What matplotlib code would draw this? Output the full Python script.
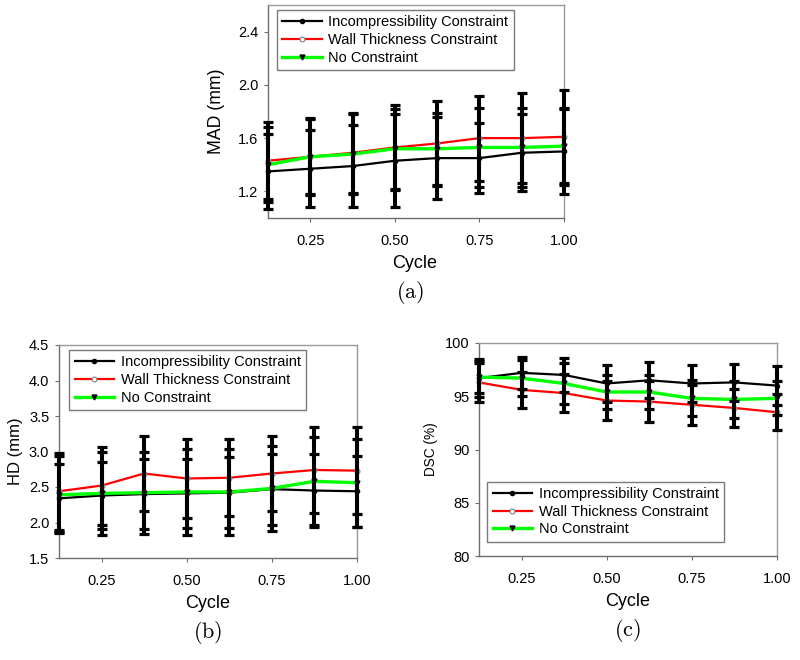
import matplotlib
matplotlib.use("Agg")
import matplotlib.pyplot as plt
from matplotlib.ticker import FixedLocator, FormatStrFormatter

plt.rcParams['font.family'] = ['Liberation Sans', 'DejaVu Sans']
plt.rcParams['mathtext.fontset'] = 'cm'

cycle = [0.125, 0.25, 0.375, 0.5, 0.625, 0.75, 0.875, 1.0]
series_names = ["Incompressibility Constraint", "Wall Thickness Constraint", "No Constraint"]

# (a) MAD (mm)
mad_incomp = [1.35, 1.37, 1.39, 1.43, 1.45, 1.45, 1.49, 1.50]
mad_incomp_sd = [0.28, 0.29, 0.31, 0.35, 0.31, 0.26, 0.29, 0.32]
mad_wall = [1.43, 1.46, 1.49, 1.53, 1.56, 1.60, 1.60, 1.61]
mad_wall_sd = [0.29, 0.28, 0.30, 0.32, 0.32, 0.32, 0.34, 0.35]
mad_none = [1.40, 1.46, 1.48, 1.52, 1.52, 1.53, 1.53, 1.54]
mad_none_sd = [0.28, 0.29, 0.30, 0.30, 0.27, 0.30, 0.30, 0.29]

# (b) HD (mm)
hd_incomp = [2.34, 2.38, 2.40, 2.41, 2.42, 2.47, 2.45, 2.44]
hd_incomp_sd = [0.48, 0.47, 0.49, 0.49, 0.50, 0.50, 0.52, 0.50]
hd_wall = [2.44, 2.52, 2.69, 2.62, 2.63, 2.69, 2.74, 2.73]
hd_wall_sd = [0.54, 0.55, 0.53, 0.55, 0.54, 0.53, 0.60, 0.61]
hd_none = [2.39, 2.41, 2.42, 2.43, 2.43, 2.48, 2.58, 2.56]
hd_none_sd = [0.54, 0.59, 0.58, 0.60, 0.60, 0.60, 0.62, 0.62]

# (c) DSC (%)
dsc_incomp = [96.7, 97.2, 97.0, 96.2, 96.5, 96.2, 96.3, 96.0]
dsc_incomp_sd = [1.8, 1.5, 1.6, 1.7, 1.7, 1.7, 1.7, 1.8]
dsc_wall = [96.3, 95.6, 95.3, 94.6, 94.5, 94.2, 93.9, 93.5]
dsc_wall_sd = [1.8, 1.7, 1.8, 1.8, 1.9, 1.9, 1.75, 1.7]
dsc_none = [96.8, 96.7, 96.2, 95.4, 95.4, 94.8, 94.7, 94.8]
dsc_none_sd = [1.5, 1.7, 1.9, 1.6, 1.6, 1.7, 1.7, 1.6]

xticks = [0.25, 0.50, 0.75, 1.00]

W, H = 800, 660
fig = plt.figure(figsize=(W / 100, H / 100), dpi=100)


def box(l, t, r, b):
    return [l / W, (H - b) / H, (r - l) / W, (b - t) / H]


styles = [
    dict(color='black', lw=1.6, marker='o', ms=3, mfc='black', mec='black'),
    dict(color='#ff0000', lw=1.6, marker='o', ms=3.5, mfc='white', mec='#808080', mew=0.8),
    dict(color='#00ff00', lw=2.4, marker='v', ms=3.5, mfc='black', mec='black'),
]


def panel(rect, data, ylim, yticks, yfmt, ylabel, ylsize, ylpad, legpos, legloc,
          caption, capxy, cyclexy):
    ax = fig.add_axes(rect)
    handles = []
    for (mean, sd), st, name in zip(data, styles, series_names):
        h, = ax.plot(cycle, mean, label=name, zorder=2, clip_on=False, **st)
        handles.append(h)
    for mean, sd in data:
        cont = ax.errorbar(cycle, mean, yerr=sd, fmt='none', ecolor='black',
                           elinewidth=2.9, capsize=3.4, capthick=2.3, zorder=3)
        for art in cont.get_children():
            art.set_clip_on(False)
    ax.set_xlim(0.125, 1.0)
    ax.set_ylim(*ylim)
    ax.xaxis.set_major_locator(FixedLocator(xticks))
    ax.xaxis.set_major_formatter(FormatStrFormatter('%.2f'))
    ax.yaxis.set_major_locator(FixedLocator(yticks))
    ax.yaxis.set_major_formatter(FormatStrFormatter(yfmt))
    for side in ['left', 'bottom']:
        ax.spines[side].set_color('#6e6e6e')
    for side in ['top', 'right']:
        ax.spines[side].set_color('#9a9a9a')
    for s in ax.spines.values():
        s.set_linewidth(1.0)
    ax.tick_params(axis='x', direction='out', length=3, width=0.8, color='#6e6e6e',
                   labelsize=10.5, pad=8.5)
    ax.tick_params(axis='y', direction='out', length=3, width=0.8, color='#6e6e6e',
                   labelsize=10.5, pad=4)
    ax.set_ylabel(ylabel, fontsize=ylsize, labelpad=ylpad)
    fig.text(cyclexy[0] / W, 1 - cyclexy[1] / H, 'Cycle', fontsize=13,
             ha='center', va='center')
    leg = ax.legend(handles=handles, loc=legloc, bbox_to_anchor=legpos,
                    borderaxespad=0, fontsize=10.5, frameon=True, fancybox=False,
                    framealpha=1, edgecolor='#7a7a7a', handlelength=2.7,
                    handletextpad=0.45, labelspacing=0.25, borderpad=0.38,
                    numpoints=1)
    leg.set_zorder(5)
    leg.get_frame().set_linewidth(1.0)
    fig.text(capxy[0] / W, 1 - capxy[1] / H, r'$\mathrm{' + caption + '}$',
             fontsize=16, ha='center', va='center')
    return ax


panel(box(268, 5, 564, 218),
      [(mad_incomp, mad_incomp_sd), (mad_wall, mad_wall_sd), (mad_none, mad_none_sd)],
      (1.0, 2.6), [1.2, 1.6, 2.0, 2.4], '%.1f', 'MAD (mm)', 12.7, 9,
      (0.03, 0.977), 'upper left', '(a)', (410, 292), (415, 264))

panel(box(59, 345, 357, 558),
      [(hd_incomp, hd_incomp_sd), (hd_wall, hd_wall_sd), (hd_none, hd_none_sd)],
      (1.5, 4.5), [1.5, 2.0, 2.5, 3.0, 3.5, 4.0, 4.5], '%.1f', 'HD (mm)', 12, 4,
      (0.034, 0.977), 'upper left', '(b)', (208, 632), (208, 603))

panel(box(479, 343, 777, 556),
      [(dsc_incomp, dsc_incomp_sd), (dsc_wall, dsc_wall_sd), (dsc_none, dsc_none_sd)],
      (80, 100), [80, 85, 90, 95, 100], '%d', 'DSC (%)', 9.8, 5,
      (0.027, 0.066), 'lower left', '(c)', (627, 630), (628, 602))

fig.savefig('out.png', dpi=100)
